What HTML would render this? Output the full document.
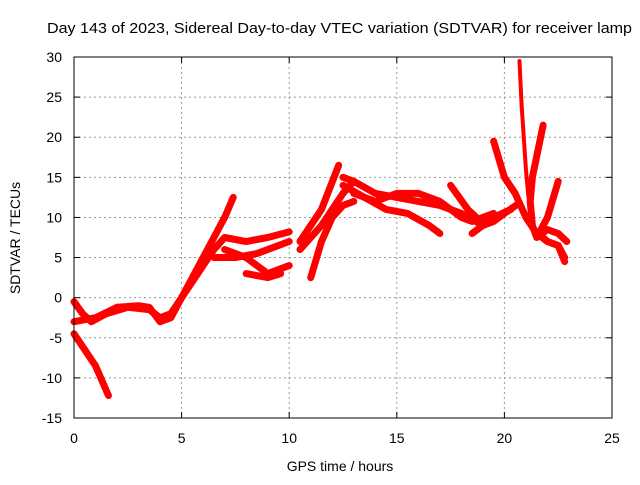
<!DOCTYPE html>
<html><head><meta charset="utf-8"><style>
body{margin:0;background:#fff}
svg text{font-family:"Liberation Sans",sans-serif;font-size:14px;fill:#000}
</style></head><body>
<svg id="c" width="640" height="480" xmlns="http://www.w3.org/2000/svg">
<text x="47" y="33" textLength="585" lengthAdjust="spacingAndGlyphs" style="font-size:15px">Day 143 of 2023, Sidereal Day-to-day VTEC variation (SDTVAR) for receiver lamp</text>
<text x="340" y="471" text-anchor="middle">GPS time / hours</text>
<text transform="translate(20,238) rotate(-90)" text-anchor="middle">SDTVAR / TECUs</text>
<g id="grid"></g><g id="ticks"></g><g id="marks"></g>
<rect x="74" y="57" width="538" height="361" fill="none" stroke="#000"/>
</svg>
<script>
const xTicks=[0,5,10,15,20,25];
const yTicks=[-15,-10,-5,0,5,10,15,20,25,30];
const t1=[[0,-4.5],[0.5,-6.5],[1,-8.5],[1.6,-12.2]];
const t2=[[0,-0.5],[0.4,-2],[0.8,-3],[1.5,-2],[2.5,-1.2],[3.5,-1.5],[4,-2.5],[4.5,-2],[5,0],[5.5,2.5],[6,5],[6.5,7.5],[7,10],[7.4,12.5]];
const t3=[[0,-3],[1,-2.5],[2,-1.2],[3,-1],[3.5,-1.2],[4,-3],[4.5,-2.5],[5,0],[5.5,2],[6,4],[6.5,6],[7,7.5],[8,7],[9,7.5],[10,8.2]];
const t4=[[6.5,5],[7.5,5],[8.5,5.5],[10,7]];
const t5=[[7,6],[8,5],[9,3],[10,4]];
const t6=[[8,3],[9,2.5],[9.6,3]];
const t7=[[10.5,7],[11.5,11],[12.3,16.5]];
const t8=[[10.5,6],[11.5,9],[12.5,13],[13,14.5]];
const t9=[[11,2.5],[11.5,7],[12,10],[12.5,11.5],[13,12]];
const t10=[[12.5,15],[13,14.5],[14,13],[15,12.5],[16,12],[17,11.5],[18,10.5],[19,9],[19.5,9.5],[20,10.5],[20.7,11.8]];
const t11=[[12.5,14],[13.5,12.5],[14.5,11],[15.5,10.5],[16.5,9],[17,8]];
const t12=[[13,13],[14,12],[15,13],[16,13],[17,12],[18,10],[18.5,9.5],[19.5,10.5]];
const t13=[[17.5,14],[18.3,11],[18.7,10]];
const t14=[[18.5,8],[19,9],[19.5,10],[20.3,11]];
const t15=[[19.5,19.5],[20,15],[20.5,13],[21,10],[21.5,8],[22,7],[22.5,6.5],[22.8,5]];
const t16=[[20.7,29.5],[20.8,24],[20.9,20],[21,16],[21.1,13],[21.2,11]];
const t17=[[21.8,21.5],[21.3,15],[21.2,12],[21.3,9],[21.5,7.5],[22,8.5],[22.5,8],[22.9,7]];
const t18=[[22.5,14.5],[22,10],[21.6,8],[22,7],[22.5,6.5],[22.8,4.5]];
const tracks=[t1,t2,t3,t4,t5,t6,t7,t8,t9,t10,t11,t12,t13,t14,t15,t16,t17,t18];
const NS="http://www.w3.org/2000/svg";
const X=v=>74+v/25*538, Y=v=>418-(v+15)/45*361;
function mk(tag,at,par){const e=document.createElementNS(NS,tag);for(const k in at)e.setAttribute(k,at[k]);document.getElementById(par).appendChild(e);return e;}
xTicks.forEach(t=>{
 if(t>0&&t<25){const g=mk('line',{x1:X(t),x2:X(t),y1:57,y2:418,stroke:'#999','stroke-dasharray':'2,3'},'grid');
 
 }
 mk('line',{x1:X(t),x2:X(t),y1:418,y2:412,stroke:'#000'},'ticks');
 mk('line',{x1:X(t),x2:X(t),y1:57,y2:63,stroke:'#000'},'ticks');
 const l=mk('text',{x:X(t),y:443,'text-anchor':'middle'},'ticks');l.textContent=t;
 
 
});
yTicks.forEach(t=>{
 if(t>-15&&t<30){const g=mk('line',{x1:74,x2:612,y1:Y(t),y2:Y(t),stroke:'#999','stroke-dasharray':'2,3'},'grid');
 
 }
 mk('line',{x1:74,x2:80,y1:Y(t),y2:Y(t),stroke:'#000'},'ticks');
 mk('line',{x1:606,x2:612,y1:Y(t),y2:Y(t),stroke:'#000'},'ticks');
 const l=mk('text',{x:62,y:Y(t)+5,'text-anchor':'end'},'ticks');l.textContent=t;
 
 
});
tracks.forEach((tr,i)=>{
 const p=mk('polyline',{points:tr.map(d=>X(d[0])+','+Y(d[1])).join(' '),fill:'none',stroke:'#f00','stroke-width':i===15?4:7,'stroke-linejoin':'round','stroke-linecap':'round'},'marks');
 
 
});
</script>
</body></html>
